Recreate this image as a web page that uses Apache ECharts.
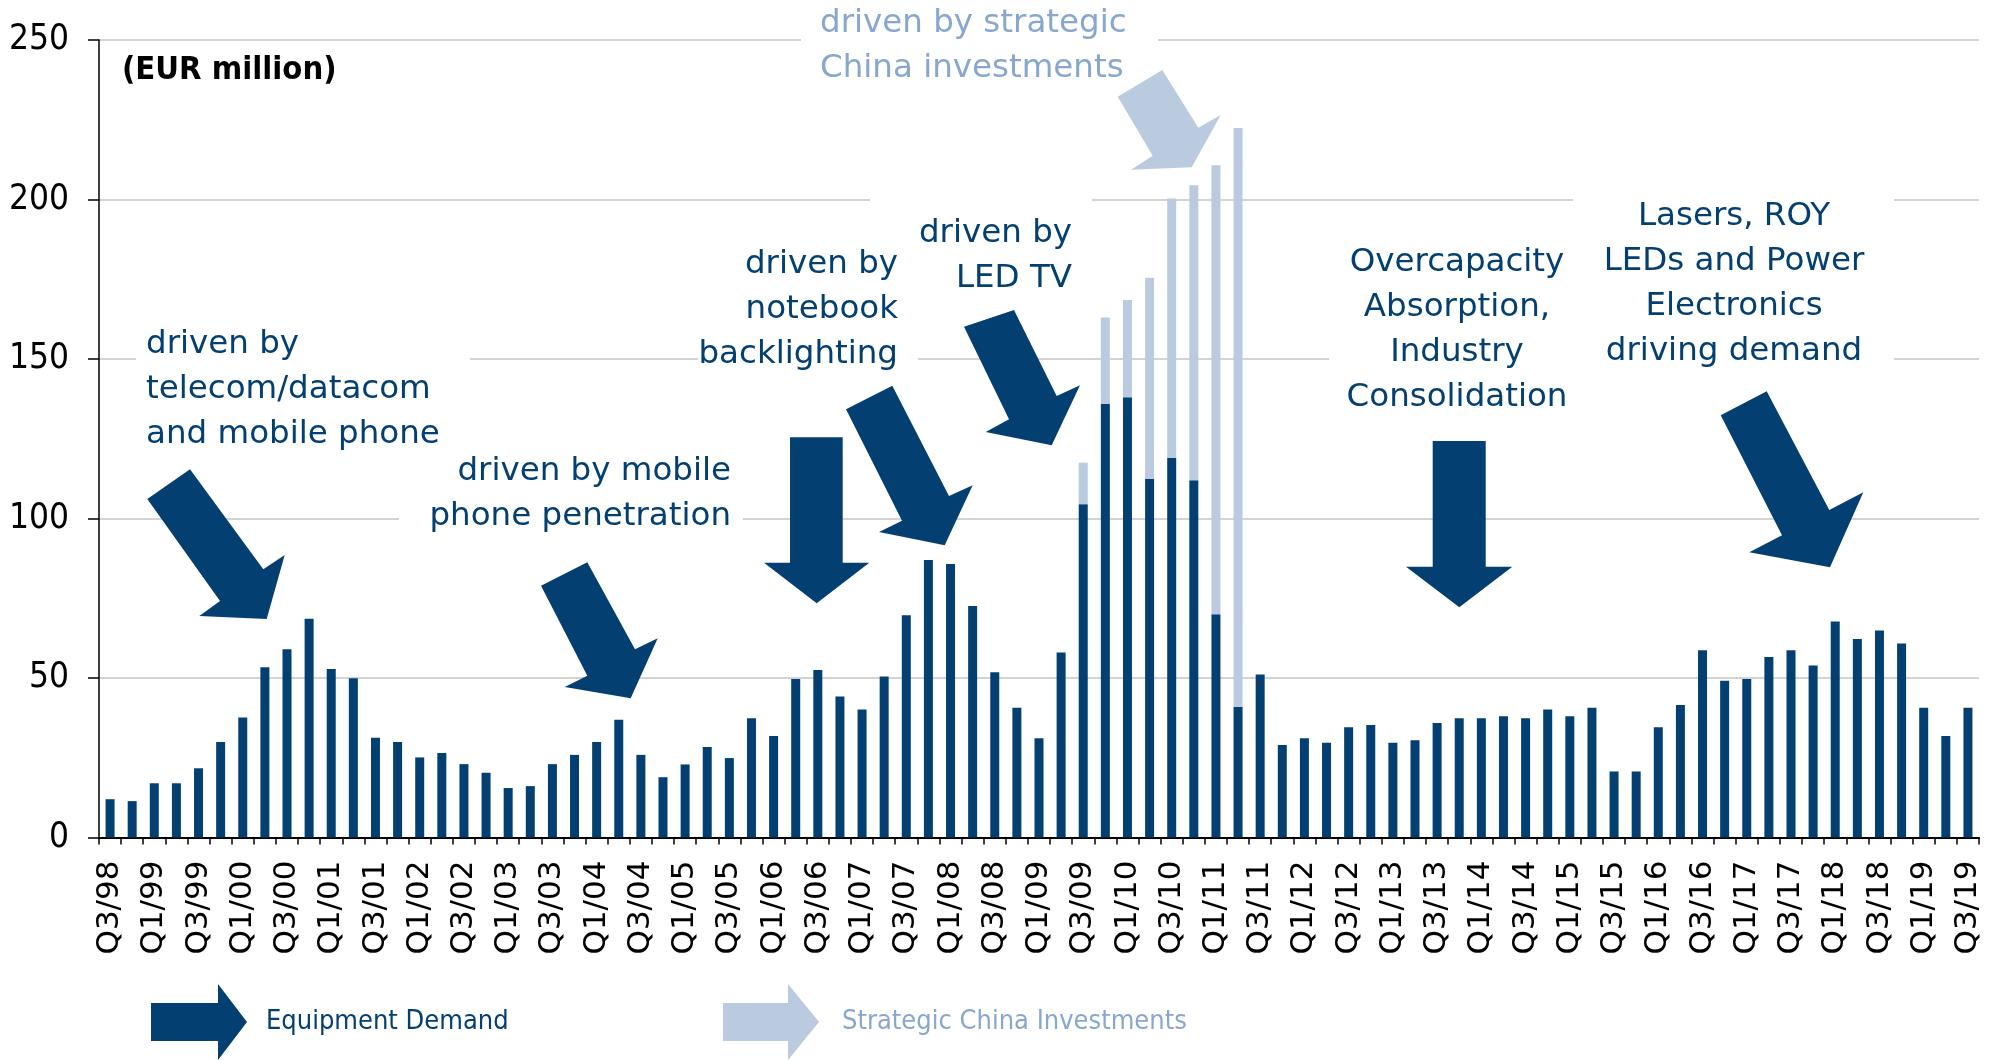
<!DOCTYPE html>
<html>
<head>
<meta charset="utf-8">
<script src="https://cdn.jsdelivr.net/npm/echarts@6/dist/echarts.min.js"></script>
<style>
  html, body { margin: 0; padding: 0; background: #ffffff; }
  #chart { width: 2009px; height: 1060px; }
</style>
</head>
<body>
<div id="chart"></div>
<script>
// Quarterly equipment order intake, EUR million
const quarters = [
  'Q3/98','Q4/98',
  'Q1/99','Q2/99','Q3/99','Q4/99',
  'Q1/00','Q2/00','Q3/00','Q4/00',
  'Q1/01','Q2/01','Q3/01','Q4/01',
  'Q1/02','Q2/02','Q3/02','Q4/02',
  'Q1/03','Q2/03','Q3/03','Q4/03',
  'Q1/04','Q2/04','Q3/04','Q4/04',
  'Q1/05','Q2/05','Q3/05','Q4/05',
  'Q1/06','Q2/06','Q3/06','Q4/06',
  'Q1/07','Q2/07','Q3/07','Q4/07',
  'Q1/08','Q2/08','Q3/08','Q4/08',
  'Q1/09','Q2/09','Q3/09','Q4/09',
  'Q1/10','Q2/10','Q3/10','Q4/10',
  'Q1/11','Q2/11','Q3/11','Q4/11',
  'Q1/12','Q2/12','Q3/12','Q4/12',
  'Q1/13','Q2/13','Q3/13','Q4/13',
  'Q1/14','Q2/14','Q3/14','Q4/14',
  'Q1/15','Q2/15','Q3/15','Q4/15',
  'Q1/16','Q2/16','Q3/16','Q4/16',
  'Q1/17','Q2/17','Q3/17','Q4/17',
  'Q1/18','Q2/18','Q3/18','Q4/18',
  'Q1/19','Q2/19','Q3/19'
];

const equipmentDemand = [
  12.0, 11.4,
  17.0, 17.0, 21.7, 29.9,
  37.6, 53.4, 59.0, 68.6,
  52.8, 49.9, 31.3, 29.9,
  25.1, 26.5, 23.0, 20.3,
  15.5, 16.1, 23.0, 25.9,
  29.9, 36.9, 25.9, 18.9,
  22.9, 28.4, 24.9, 37.4,
  31.8, 49.7, 52.5, 44.2,
  40.1, 50.5, 69.7, 87.0,
  85.7, 72.6, 51.8, 40.7,
  31.1, 58.0, 104.5, 136.0,
  138.0, 112.5, 119.0, 112.0,
  70.0, 41.0, 51.1, 29.0,
  31.1, 29.7, 34.6, 35.3,
  29.7, 30.5, 35.9, 37.4,
  37.4, 38.0, 37.4, 40.1,
  38.0, 40.7, 20.7, 20.7,
  34.6, 41.5, 58.7, 49.1,
  49.7, 56.6, 58.7, 53.9,
  67.7, 62.2, 64.9, 60.8,
  40.7, 31.8, 40.7
];

// Strategic China investments, stacked on top of equipment demand
const chinaQuarters = ['Q3/09','Q4/09','Q1/10','Q2/10','Q3/10','Q4/10','Q1/11','Q2/11'];
const chinaInvestments = [13.0, 27.0, 30.5, 63.0, 81.3, 92.5, 140.7, 181.4];

const yTicks = [0, 50, 100, 150, 200, 250];

// ---- styling ----
const DARK = '#033f71';
const LIGHT = '#bacbe0';
const LIGHT_TEXT = '#88a7cf';
const NOTE_FONT = '32.5px "DejaVu Sans", Verdana, sans-serif';
const COND = '"DejaVu Sans Condensed", "DejaVu Sans", sans-serif';

const chinaSeries = quarters.map(q => {
  const i = chinaQuarters.indexOf(q);
  return i >= 0 ? chinaInvestments[i] : null;
});

// white panels behind the notes (they interrupt the grid lines)
const panels = [
  [136, 320, 334, 135],
  [399, 447, 344, 95],
  [698, 240, 220, 135],
  [870, 190, 222, 110],
  [801, 0, 357, 95],
  [1329, 235, 244, 190],
  [1573, 185, 321, 190]
];

// block arrows pointing at the demand waves
const arrows = [
  [DARK, [[147.3,499],[190,469.3],[263.3,569.3],[284.7,555],[266.7,619],[199.3,616],[220,601]]],
  [DARK, [[541,585.7],[587.3,562.3],[635,649.3],[657.7,638.3],[630.7,698.3],[564.7,687],[587.3,675.7]]],
  [DARK, [[790,437.3],[842.7,437.3],[842.7,562.7],[869.3,562.7],[816.7,603.3],[764,562.7],[790,562.7]]],
  [DARK, [[846,409.3],[892.3,385.7],[949,496],[972.7,485.3],[944.7,545.3],[879,532],[902,520.7]]],
  [DARK, [[964,326.7],[1014,310],[1056.7,396],[1080,385.3],[1051.7,445.3],[985.7,432],[1009,419.3]]],
  [LIGHT, [[1117.7,96.7],[1162.3,70],[1198.3,127.7],[1220.7,115],[1191.7,167.3],[1131,169.7],[1152.7,155.7]]],
  [DARK, [[1432.7,441],[1485.7,441],[1485.7,566.7],[1512.3,566.7],[1459.3,607.3],[1406,566.7],[1432.7,566.7]]],
  [DARK, [[1720.7,415.3],[1766.7,391.3],[1829.3,510],[1863.3,492.3],[1830,567.3],[1749.3,552.3],[1782,535.3]]],
  // legend keys
  [DARK, [[151,1003],[218,1003],[218,984],[247,1022],[218,1060],[218,1041],[151,1041]]],
  [LIGHT, [[723,1003],[788,1003],[788,984],[819,1022],[788,1060],[788,1041],[723,1041]]]
];

const notes = [
  ['driven by\ntelecom/datacom\nand mobile phone', 146, 322, 'left', DARK],
  ['driven by mobile\nphone penetration', 731, 449, 'right', DARK],
  ['driven by\nnotebook\nbacklighting', 898, 242, 'right', DARK],
  ['driven by\nLED TV', 1072, 211, 'right', DARK],
  ['driven by strategic\nChina investments', 820, 1, 'left', LIGHT_TEXT],
  ['Overcapacity\nAbsorption,\nIndustry\nConsolidation', 1457, 240, 'center', DARK],
  ['Lasers, ROY\nLEDs and Power\nElectronics\ndriving demand', 1734, 194, 'center', DARK]
];

const graphic = [];
panels.forEach(p => graphic.push({
  type: 'rect', z: 1, silent: true,
  shape: { x: p[0], y: p[1], width: p[2], height: p[3] },
  style: { fill: '#ffffff' }
}));
arrows.forEach(a => graphic.push({
  type: 'polygon', z: 5, silent: true,
  shape: { points: a[1] },
  style: { fill: a[0] }
}));
notes.forEach(n => graphic.push({
  type: 'text', z: 6, silent: true,
  style: {
    text: n[0], x: n[1], y: n[2], align: n[3], verticalAlign: 'top',
    font: NOTE_FONT, lineHeight: 45, fill: n[4]
  }
}));
graphic.push({
  type: 'text', z: 6, silent: true,
  style: {
    text: '(EUR million)', x: 122, y: 71, align: 'left', verticalAlign: 'middle',
    font: 'bold 32.5px ' + COND, fill: '#000000'
  }
});
graphic.push({
  type: 'text', z: 6, silent: true,
  style: {
    text: 'Equipment Demand', x: 266, y: 1022, align: 'left', verticalAlign: 'middle',
    font: '27px ' + COND, fill: DARK
  }
});
graphic.push({
  type: 'text', z: 6, silent: true,
  style: {
    text: 'Strategic China Investments', x: 842, y: 1022, align: 'left', verticalAlign: 'middle',
    font: '27px ' + COND, fill: LIGHT_TEXT
  }
});

const chart = echarts.init(document.getElementById('chart'), null, { renderer: 'canvas' });
chart.setOption({
  animation: false,
  backgroundColor: '#ffffff',
  grid: { left: 99, right: 30, top: 40, bottom: 222.5, containLabel: false },
  xAxis: {
    type: 'category',
    data: quarters,
    boundaryGap: true,
    axisLine: { lineStyle: { color: '#000000', width: 2 } },
    axisTick: { show: true, interval: 0, length: 7, lineStyle: { color: '#000000', width: 1.5 } },
    axisLabel: {
      interval: 1, rotate: 90, margin: 23,
      fontSize: 31, fontFamily: '"DejaVu Sans", Verdana, sans-serif', color: '#000000'
    }
  },
  yAxis: {
    type: 'value',
    min: yTicks[0],
    max: yTicks[yTicks.length - 1],
    interval: yTicks[1] - yTicks[0],
    axisLine: { show: true, lineStyle: { color: '#000000', width: 1.5 } },
    axisTick: { show: true, length: 11, lineStyle: { color: '#000000', width: 1.5 } },
    axisLabel: { margin: 30, fontSize: 35, fontFamily: COND, color: '#000000' },
    splitLine: { show: true, lineStyle: { color: '#d3d3d3', width: 2 } }
  },
  series: [
    {
      name: 'Equipment Demand', type: 'bar', stack: 'orders',
      barWidth: 9, itemStyle: { color: DARK }, data: equipmentDemand
    },
    {
      name: 'Strategic China Investments', type: 'bar', stack: 'orders',
      barWidth: 9, itemStyle: { color: LIGHT }, data: chinaSeries
    }
  ],
  graphic: graphic
});
</script>
</body>
</html>
